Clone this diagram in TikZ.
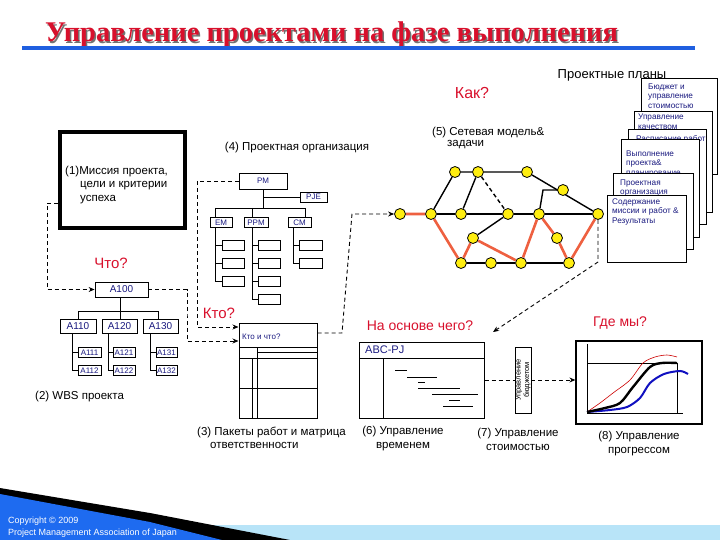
\documentclass[tikz,border=0pt]{standalone}
\usepackage{fontspec}
\setmainfont{Liberation Sans}
\newfontfamily\titlefont{Liberation Serif}
\usetikzlibrary{arrows.meta}
\definecolor{qred}{HTML}{D8102C}
\definecolor{navy}{HTML}{1A1A80}
\definecolor{netorange}{HTML}{EE6040}
\definecolor{nodeyellow}{HTML}{FFEE10}
\definecolor{wedgeblue}{HTML}{1E6BF0}
\definecolor{bandblue}{HTML}{B8E4F8}
\definecolor{titleblue}{HTML}{1F5FE0}
\definecolor{curveblue}{HTML}{1010C0}
\pgfdeclarelayer{bg}
\pgfsetlayers{bg,main}
\tikzset{
  lbl/.style={inner sep=0pt, font=\fontsize{11.5}{14}\selectfont, align=center},
  qq/.style={inner sep=0pt, text=qred, font=\fontsize{15}{17}\selectfont},
  obox/.style={draw, fill=white, line width=0.8pt, inner sep=0pt, text=navy, font=\fontsize{8}{9}\selectfont},
  wbox/.style={draw, fill=white, line width=0.8pt, inner sep=0pt, text=navy, font=\fontsize{10}{11}\selectfont},
  ebox/.style={draw, fill=white, line width=0.8pt, inner sep=0pt, minimum height=10pt},
  card/.style={draw, fill=white, line width=1pt},
  ctext/.style={anchor=north west, inner sep=0pt, text=navy, align=left, font=\fontsize{8.2}{9.5}\selectfont},
  dcon/.style={dash pattern=on 4pt off 3pt, line width=0.9pt},
  arr/.style={-{Stealth[length=6pt,width=5pt]}},
  tree/.style={line width=0.9pt},
  blk/.style={line width=1.4pt},
  hot/.style={line width=2.6pt, draw=netorange},
  nd/.style={circle, draw, fill=nodeyellow, minimum size=11pt, inner sep=0pt, line width=0.8pt},
}
\begin{document}
\begin{tikzpicture}[x=1pt,y=-1pt]
\useasboundingbox (0,0) rectangle (720,540);

% bottom band and wedge
\fill[bandblue] (0,525) rectangle (720,540);
\fill[black] (0,488) -- (150,513) -- (290,540) -- (0,540) -- cycle;
\fill[wedgeblue] (0,494) -- (150,522) -- (222,540) -- (0,540) -- cycle;
\node[anchor=west, inner sep=0pt, text=white, font=\fontsize{9}{10}\selectfont] (copy1) at (8,521) {Copyright © 2009};
\node[anchor=west, inner sep=0pt, text=white, font=\fontsize{9}{10}\selectfont] (copy2) at (8,533) {Project Management Association of Japan};

% title
\node[anchor=base west, inner sep=0pt, text=black!55, font=\titlefont\bfseries\fontsize{28.5}{32}\selectfont] (titleshadow) at (46.5,43.5) {Управление проектами на фазе выполнения};
\node[anchor=base west, inner sep=0pt, text=qred, font=\titlefont\bfseries\fontsize{28.5}{32}\selectfont] (title) at (45,42) {Управление проектами на фазе выполнения};
\draw[line width=4pt, titleblue] (22,48.5) -- (695,48.5);

\node[lbl, font=\fontsize{13}{15}\selectfont] (plans) at (612,75) {Проектные планы};

% cards
\node[card, minimum width=75.5pt, minimum height=96pt] (c1) at (679.25,127) {};
\node[ctext] (t1) at (648,83.5) {Бюджет и\\управление\\стоимостью};
\node[card, minimum width=78pt, minimum height=101pt] (c2) at (673,162.5) {};
\node[ctext] (t2) at (638,114) {Управление\\качеством};
\node[card, minimum width=78pt, minimum height=95pt] (c3) at (667,177.5) {};
\node[ctext] (t3) at (636,135) {Расписание работ};
\node[card, minimum width=78pt, minimum height=97pt] (c4) at (660,188.5) {};
\node[ctext] (t4) at (626,150.5) {Выполнение\\проекта\&\\планирование};
\node[card, minimum width=80pt, minimum height=75pt] (c5) at (653,211.5) {};
\node[ctext] (t5) at (620,179.5) {Проектная\\организация};
\node[card, minimum width=79pt, minimum height=66pt] (c6) at (646.5,229) {};
\node[ctext] (t6) at (612,198.5) {Содержание\\миссии и работ \&\\Результаты};

% questions and captions
\node[qq, font=\fontsize{16}{18}\selectfont] (kak) at (472,93) {Как?};
\node[qq] (chto) at (111,263) {Что?};
\node[qq] (kto) at (219,313) {Кто?};
\node[qq, font=\fontsize{14}{16}\selectfont] (naosn) at (420,326) {На основе чего?};
\node[qq, font=\fontsize{14}{16}\selectfont] (gde) at (620,323) {Где мы?};

\node[lbl] (cap4) at (297,148) {(4) Проектная организация};
\node[lbl, anchor=west] (cap5a) at (432,133) {(5) Сетевая модель\&};
\node[lbl, anchor=west] (cap5b) at (447,145) {задачи};
\node[lbl, anchor=west] (cap2) at (35,397) {(2) WBS проекта};
\node[lbl, anchor=west] (cap3a) at (197,432) {(3) Пакеты работ и матрица};
\node[lbl, anchor=west] (cap3b) at (210,445) {ответственности};
\node[lbl] (cap6) at (403,439) {(6) Управление\\временем};
\node[lbl] (cap7) at (518,439) {(7) Управление\\стоимостью};
\node[lbl] (cap8) at (639,444) {(8) Управление\\прогрессом};

% box (1)
\node[draw, line width=4pt, minimum width=125pt, minimum height=96pt, inner sep=0pt] (box1) at (122.5,180) {};
\node[lbl, anchor=west] (m1) at (65,172) {(1)Миссия проекта,};
\node[lbl, anchor=west] (m2) at (80,186) {цели и критерии};
\node[lbl, anchor=west] (m3) at (80,200) {успеха};

% org chart (4)
\node[obox, minimum width=48pt, minimum height=16pt] (pm) at (263,181) {PM};
\node[obox, minimum width=27pt, minimum height=10pt] (pje) at (313.5,197) {PJE};
\node[obox, minimum width=22pt, minimum height=10pt] (em) at (221,222.5) {EM};
\node[obox, minimum width=24pt, minimum height=10pt] (ppm) at (256,222.5) {PPM};
\node[obox, minimum width=23pt, minimum height=10pt] (cm) at (299.5,222.5) {CM};
\draw[tree] (pm.south) -- (263,208) (pm.south |- pje.west) -- (pje.west);
\draw[tree] (215,208) -- (305,208);
\draw[tree] (215,208) -- (215,217.5) (252,208) -- (252,217.5) (305,208) -- (305,217.5);
\draw[tree] (215,227.5) -- (215,281) (252,227.5) -- (252,299) (293,227.5) -- (293,263);
\foreach \y/\n in {245/1,263/2,281/3}{
  \node[ebox, minimum width=22pt] (ems\n) at (233,\y) {};
  \draw[tree] (215,\y) -- (ems\n.west);
}
\foreach \y/\n in {245/1,263/2,281/3,299/4}{
  \node[ebox, minimum width=22pt] (pps\n) at (269,\y) {};
  \draw[tree] (252,\y) -- (pps\n.west);
}
\foreach \y/\n in {245/1,263/2}{
  \node[ebox, minimum width=23pt] (cms\n) at (310.5,\y) {};
  \draw[tree] (293,\y) -- (cms\n.west);
}

% WBS (2)
\node[wbox, minimum width=53pt, minimum height=15pt] (a100) at (121.5,289.5) {A100};
\node[wbox, minimum width=36pt, minimum height=14pt] (a110) at (78,326) {A110};
\node[wbox, minimum width=35pt, minimum height=14pt] (a120) at (119.5,326) {A120};
\node[wbox, minimum width=35pt, minimum height=14pt] (a130) at (160.5,326) {A130};
\draw[tree] (120,297) -- (120,311) (78,311) -- (158,311);
\draw[tree] (78,311) -- (78,319) (120,311) -- (120,319) (158,311) -- (158,319);
\node[obox, minimum width=23pt, minimum height=10pt] (a111) at (89.5,352.5) {A111};
\node[obox, minimum width=23pt, minimum height=10pt] (a112) at (89.5,370.5) {A112};
\node[obox, minimum width=22pt, minimum height=10pt] (a121) at (124,352.5) {A121};
\node[obox, minimum width=22pt, minimum height=10pt] (a122) at (124,370.5) {A122};
\node[obox, minimum width=21pt, minimum height=10pt] (a131) at (166.5,352.5) {A131};
\node[obox, minimum width=21pt, minimum height=10pt] (a132) at (166.5,370.5) {A132};
\draw[tree] (72,333) -- (72,370.5) (108,333) -- (108,370.5) (150,333) -- (150,370.5);
\draw[tree] (72,352.5) -- (a111.west) (72,370.5) -- (a112.west);
\draw[tree] (108,352.5) -- (a121.west) (108,370.5) -- (a122.west);
\draw[tree] (150,352.5) -- (a131.west) (150,370.5) -- (a132.west);

% matrix (3)
\node[draw, line width=1pt, minimum width=78pt, minimum height=95pt, inner sep=0pt] (mat) at (278,370.5) {};
\node[anchor=west, inner sep=0pt, text=navy, font=\fontsize{8}{9}\selectfont] (kichto) at (242,337) {Кто и что?};
\draw[line width=0.9pt] (239,347) -- (317,347) (257,347) -- (257,418) (257,352) -- (317,352)
  (239,358) -- (317,358) (252,358) -- (252,418) (239,388) -- (317,388);

% Gantt (6)
\node[draw, line width=1pt, minimum width=125pt, minimum height=76pt, inner sep=0pt] (gantt) at (421.5,380) {};
\node[anchor=west, inner sep=0pt, text=navy, font=\fontsize{11}{12}\selectfont] (abc) at (365,349.5) {ABC-PJ};
\draw[line width=0.9pt] (359,358) -- (484,358) (383,358) -- (383,418);
\draw[line width=0.7pt] (395,370) -- (407,370) (407,377) -- (437,377) (418,382) -- (425,382)
  (418,388) -- (460,388) (432,394) -- (478,394) (449,400) -- (460,400) (443,406) -- (473,406);

% budget (7)
\node[draw, line width=0.9pt, minimum width=16pt, minimum height=66pt, inner sep=0pt] (budget) at (523,380) {};
\node[rotate=90, inner sep=0pt, align=center, font=\fontsize{7.5}{8.5}\selectfont] (budgett) at (523,380) {Управление\\бюджетом};

% progress chart (8)
\node[draw, line width=1.2pt, minimum width=126pt, minimum height=83pt, inner sep=0pt] (chart) at (639,382.5) {};
\draw[line width=0.9pt] (587,344) -- (587,413) -- (683,413);
\draw[line width=0.9pt] (587,363) -- (677,363) -- (677,413);
\draw[line width=0.6pt, red!80!black] plot[smooth] coordinates {(587,412) (600,403) (613,393) (630,380) (643,363) (655,357) (667,355) (677,357)};
\draw[line width=2pt, curveblue] plot[smooth] coordinates {(587,412) (610,410) (627,407) (640,398) (650,383) (664,374) (680,371) (688,374)};
\draw[line width=2.4pt, black] plot[smooth] coordinates {(587,412) (605,408) (620,403) (633,387) (650,367) (662,363) (677,363)};

% network (5)
\foreach \n/\x/\y in {n1/400/214, n2/431/214, n3/455/172, n4/478/172, n5/527/172, n6/461/214,
  n7/508/214, n8/539/214, n9/563/190, n10/598/214, n11/473/238, n12/461/263, n13/491/263,
  n14/521/263, n15/557/238, n16/569/263}{
  \node[nd] (\n) at (\x,\y) {};
}
\begin{pgfonlayer}{bg}
\draw[blk] (n2) -- (n3) -- (n4) -- (n5);
\draw[blk] (n4) -- (n6);
\draw[blk, dash pattern=on 4pt off 3pt] (n4) -- (n7);
\draw[blk] (n2) -- (n6) -- (n7) -- (n8) -- (n10);
\draw[blk] (n5) -- (n10);
\draw[blk] (n8) -- (543,190) -- (n9);
\draw[blk] (n7) -- (n11);
\draw[blk] (n12) -- (n13) -- (n14) -- (n16);
\draw[hot] (n1) -- (n2) -- (n12) -- (n11) -- (n14) -- (n8) -- (n15) -- (n16) -- (n10);
\end{pgfonlayer}

% dashed connectors
\coordinate (nabase) at (493,332);
\draw[dcon, arr] (box1.west |- 0,203) -- (47,203) |- (a100.west);
\draw[dcon, arr] (pm.west) -- (197,181) |- (mat.west |- 0,327);
\draw[dcon, arr] (a100.east) -| (187,315) |- (mat.west |- 0,341);
\draw[dcon, arr] (mat.east |- 0,333) -- (342,333) -- (352,214) -- (n1);
\draw[dcon, arr] (n10) -- (598,262) -- (nabase);
\draw[dcon] (gantt.east) -- (budget.west);
\draw[dcon, arr] (budget.east) -- (budget.east -| chart.west);
\end{tikzpicture}
\end{document}
